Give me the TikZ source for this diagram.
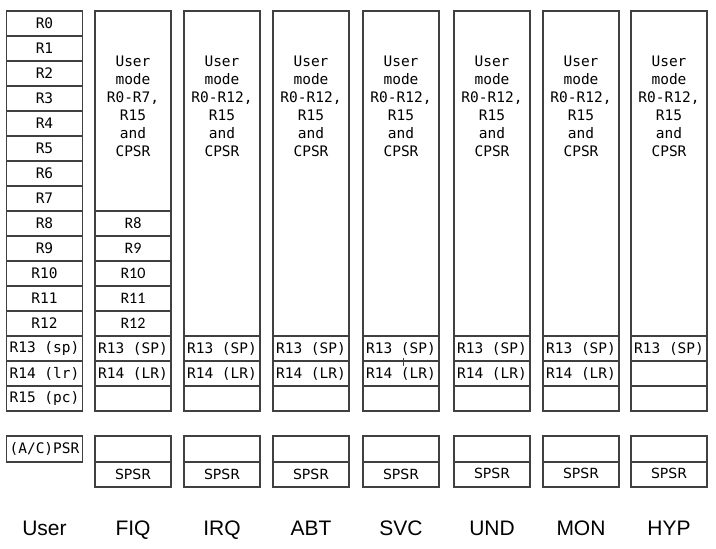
\documentclass[tikz,border=0pt]{standalone}
\usepackage{fontspec}
\setmainfont{Liberation Sans}
\setmonofont{DejaVu Sans Mono}
\newfontfamily\cellfont{Carlito}
\newfontfamily\spsrfont{DejaVu Sans}
\usepackage{tikz}

\begin{document}
\begin{tikzpicture}[
    x=1pt, y=-1pt,
    reg/.style={draw=black!75, line width=1.1pt, minimum width=76pt, minimum height=25pt, inner sep=0pt, font=\ttfamily\fontsize{14.5}{14.5}\selectfont},
    fiqreg/.style={reg, font=\cellfont\fontsize{16}{16}\selectfont},
    bank/.style={draw=black!75, line width=1.1pt, minimum width=76pt, inner sep=0pt},
    psr/.style={reg, minimum height=26pt},
    spsr/.style={reg, font=\spsrfont\fontsize{14}{14}\selectfont},
    note/.style={align=center, font=\ttfamily\fontsize{14.5}{18}\selectfont},
    mode/.style={anchor=base, font=\fontsize{21}{21}\selectfont}
]
\useasboundingbox (0,0) rectangle (716,549);

% User
\node[reg] (u0) at (44.5, 23.5) {R0};
\node[reg] (u1) at (44.5, 48.5) {R1};
\node[reg] (u2) at (44.5, 73.5) {R2};
\node[reg] (u3) at (44.5, 98.5) {R3};
\node[reg] (u4) at (44.5, 123.5) {R4};
\node[reg] (u5) at (44.5, 148.5) {R5};
\node[reg] (u6) at (44.5, 173.5) {R6};
\node[reg] (u7) at (44.5, 198.5) {R7};
\node[reg] (u8) at (44.5, 223.5) {R8};
\node[reg] (u9) at (44.5, 248.5) {R9};
\node[reg] (u10) at (44.5, 273.5) {R10};
\node[reg] (u11) at (44.5, 298.5) {R11};
\node[reg] (u12) at (44.5, 323.5) {R12};
\node[reg] (u13) at (44.5, 348.5) {R13 (sp)};
\node[reg] (u14) at (44.5, 373.5) {R14 (lr)};
\node[reg] (u15) at (44.5, 398.5) {R15 (pc)};
\node[psr] (upsr) at (44.5, 449) {(A/C)PSR};
\node[mode] (ulbl) at (44.5, 535) {User};

% FIQ
\node[bank, minimum height=200pt] (fbank) at (133, 111) {};
\node[note] (ftxt) at (133, 106) {User\\mode\\R0-R7,\\R15\\and\\CPSR};
\node[fiqreg] (f8) at (133, 223.5) {R8};
\node[fiqreg] (f9) at (133, 248.5) {R9};
\node[fiqreg] (f10) at (133, 273.5) {R10};
\node[fiqreg] (f11) at (133, 298.5) {R11};
\node[fiqreg] (f12) at (133, 323.5) {R12};
\node[reg] (f13) at (133, 348.5) {R13 (SP)};
\node[reg] (f14) at (133, 373.5) {R14 (LR)};
\node[reg] (f15) at (133, 398.5) {};
\node[psr] (fpsr) at (133, 449) {};
\node[spsr] (fspsr) at (133, 474.5) {SPSR};
\node[mode] (flbl) at (133, 535) {FIQ};

% IRQ
\node[bank, minimum height=325pt] (ibank) at (222, 173.5) {};
\node[note] (itxt) at (222, 106) {User\\mode\\R0-R12,\\R15\\and\\CPSR};
\node[reg] (i13) at (222, 348.5) {R13 (SP)};
\node[reg] (i14) at (222, 373.5) {R14 (LR)};
\node[reg] (i15) at (222, 398.5) {};
\node[psr] (ipsr) at (222, 449) {};
\node[spsr] (ispsr) at (222, 474.5) {SPSR};
\node[mode] (ilbl) at (222, 535) {IRQ};

% ABT
\node[bank, minimum height=325pt] (abank) at (311, 173.5) {};
\node[note] (atxt) at (311, 106) {User\\mode\\R0-R12,\\R15\\and\\CPSR};
\node[reg] (a13) at (311, 348.5) {R13 (SP)};
\node[reg] (a14) at (311, 373.5) {R14 (LR)};
\node[reg] (a15) at (311, 398.5) {};
\node[psr] (apsr) at (311, 449) {};
\node[spsr] (aspsr) at (311, 474.5) {SPSR};
\node[mode] (albl) at (311, 535) {ABT};

% SVC
\node[bank, minimum height=325pt] (sbank) at (401, 173.5) {};
\node[note] (stxt) at (401, 106) {User\\mode\\R0-R12,\\R15\\and\\CPSR};
\node[reg] (s13) at (401, 348.5) {R13 (SP)};
\node[reg] (s14) at (401, 373.5) {R14 (LR)};
\node[reg] (s15) at (401, 398.5) {};
\node[psr] (spsr) at (401, 449) {};
\node[spsr] (sspsr) at (401, 474.5) {SPSR};
\node[mode] (slbl) at (401, 535) {SVC};
\draw[black!75, line width=0.8pt] ([xshift=2pt, yshift=4pt]s13.south) -- ([xshift=2pt, yshift=-4pt]s13.south);

% UND
\node[bank, minimum height=325pt] (dbank) at (492, 173.5) {};
\node[note] (dtxt) at (492, 106) {User\\mode\\R0-R12,\\R15\\and\\CPSR};
\node[reg] (d13) at (492, 348.5) {R13 (SP)};
\node[reg] (d14) at (492, 373.5) {R14 (LR)};
\node[reg] (d15) at (492, 398.5) {};
\node[psr] (dpsr) at (492, 449) {};
\node[spsr] (dspsr) at (492, 474.5) {\raisebox{2pt}{SPSR}};
\node[mode] (dlbl) at (492, 535) {UND};

% MON
\node[bank, minimum height=325pt] (mbank) at (581, 173.5) {};
\node[note] (mtxt) at (581, 106) {User\\mode\\R0-R12,\\R15\\and\\CPSR};
\node[reg] (m13) at (581, 348.5) {R13 (SP)};
\node[reg] (m14) at (581, 373.5) {R14 (LR)};
\node[reg] (m15) at (581, 398.5) {};
\node[psr] (mpsr) at (581, 449) {};
\node[spsr] (mspsr) at (581, 474.5) {\raisebox{2pt}{SPSR}};
\node[mode] (mlbl) at (581, 535) {MON};

% HYP
\node[bank, minimum height=325pt] (hbank) at (669, 173.5) {};
\node[note] (htxt) at (669, 106) {User\\mode\\R0-R12,\\R15\\and\\CPSR};
\node[reg] (h13) at (669, 348.5) {R13 (SP)};
\node[reg] (h14) at (669, 373.5) {};
\node[reg] (h15) at (669, 398.5) {};
\node[psr] (hpsr) at (669, 449) {};
\node[spsr] (hspsr) at (669, 474.5) {\raisebox{2pt}{SPSR}};
\node[mode] (hlbl) at (669, 535) {HYP};

\end{tikzpicture}
\end{document}
